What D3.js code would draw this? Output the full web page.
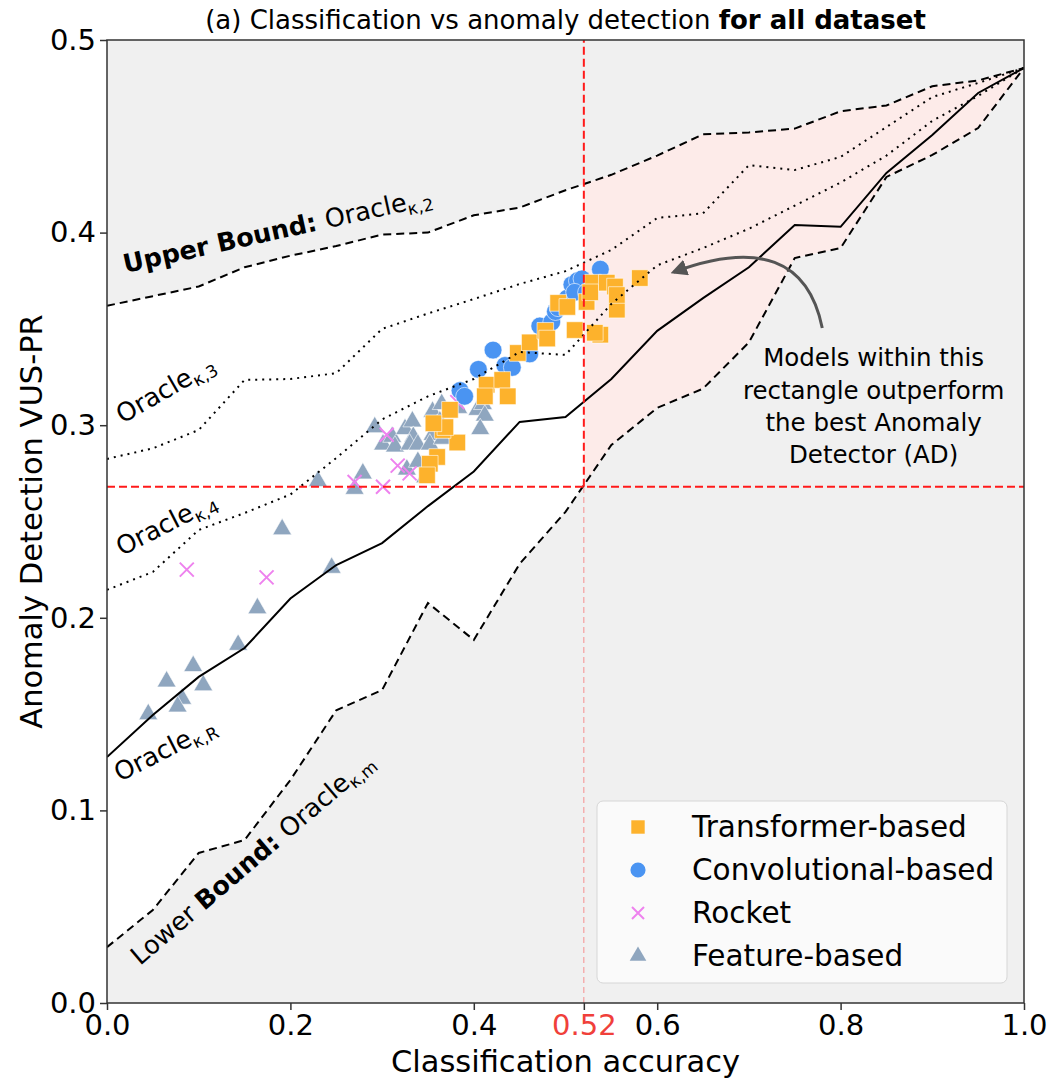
<!DOCTYPE html>
<html>
<head>
<meta charset="utf-8">
<style>
  body { margin: 0; background: #fff; }
  text { font-family: "DejaVu Sans", sans-serif; }
</style>
</head>
<body>
<div id="vis-oracle"></div>
<script src="https://d3js.org/d3.v7.min.js"></script>
<script>

// ---- Data ---- //

// accuracy grid of the oracle curves
const accGrid = [0, 0.05, 0.1, 0.15, 0.2, 0.25, 0.3, 0.35, 0.4, 0.45, 0.5,
                 0.55, 0.6, 0.65, 0.7, 0.75, 0.8, 0.85, 0.9, 0.95, 1.0];

const upperBound = [0.362, 0.367, 0.372, 0.382, 0.388, 0.393, 0.399, 0.400, 0.409, 0.413, 0.422,
                    0.430, 0.440, 0.451, 0.452, 0.454, 0.463, 0.466, 0.476, 0.479, 0.4855];
const oracle3 = [0.2825, 0.288, 0.2975, 0.3235, 0.324, 0.327, 0.350, 0.358, 0.3655, 0.3733, 0.380,
                 0.391, 0.4076, 0.410, 0.435, 0.4325, 0.4393, 0.4548, 0.4704, 0.4777, 0.4855];
const oracle4 = [0.2145, 0.2238, 0.2456, 0.2544, 0.264, 0.283, 0.303, 0.315, 0.324, 0.338, 0.3365,
                 0.363, 0.383, 0.392, 0.402, 0.414, 0.426, 0.440, 0.458, 0.471, 0.4855];
const oracleR = [0.1277, 0.1495, 0.1693, 0.1843, 0.210, 0.2274, 0.2388, 0.258, 0.276, 0.3017, 0.3043,
                 0.324, 0.349, 0.366, 0.382, 0.404, 0.403, 0.431, 0.4507, 0.4725, 0.4855];
const lowerBound = [0.029, 0.0483, 0.0779, 0.0846, 0.1158, 0.152, 0.1625, 0.2077, 0.1885, 0.228, 0.255,
                    0.2897, 0.309, 0.319, 0.343, 0.3868, 0.392, 0.4289, 0.4403, 0.4543, 0.4855];

// best classifier accuracy / best anomaly detector VUS-PR
const bestAcc = 0.52;
const bestAD = 0.268;

const transformerPts = [
  [0.414, 0.321], [0.431, 0.3235], [0.412, 0.315], [0.437, 0.315], [0.448, 0.3375],
  [0.461, 0.343], [0.478, 0.349], [0.480, 0.345], [0.492, 0.3635], [0.502, 0.3614],
  [0.510, 0.3494], [0.523, 0.364], [0.530, 0.374], [0.527, 0.369], [0.545, 0.374],
  [0.554, 0.372], [0.538, 0.347], [0.532, 0.348], [0.556, 0.360], [0.556, 0.3676],
  [0.581, 0.3764], [0.382, 0.291], [0.366, 0.2975], [0.360, 0.2835], [0.352, 0.280],
  [0.349, 0.274], [0.374, 0.308], [0.369, 0.299], [0.356, 0.301]
];
const convolutionalPts = [
  [0.385, 0.318], [0.390, 0.315], [0.405, 0.329], [0.421, 0.339], [0.434, 0.331],
  [0.442, 0.330], [0.461, 0.337], [0.472, 0.3515], [0.485, 0.3536], [0.489, 0.359],
  [0.492, 0.361], [0.502, 0.366], [0.507, 0.373], [0.513, 0.375], [0.518, 0.376],
  [0.510, 0.369], [0.538, 0.381], [0.523, 0.369]
];
const rocketPts = [
  [0.087, 0.225], [0.174, 0.221], [0.270, 0.2705], [0.301, 0.268], [0.317, 0.279],
  [0.330, 0.275], [0.305, 0.295], [0.382, 0.312]
];
const featurePts = [
  [0.045, 0.151], [0.065, 0.168], [0.094, 0.176], [0.082, 0.159], [0.077, 0.155],
  [0.105, 0.166], [0.143, 0.187], [0.164, 0.206], [0.191, 0.247], [0.245, 0.227],
  [0.230, 0.272], [0.270, 0.268], [0.279, 0.276], [0.292, 0.300], [0.301, 0.291],
  [0.311, 0.295], [0.314, 0.290], [0.325, 0.299], [0.333, 0.303], [0.334, 0.295],
  [0.330, 0.291], [0.339, 0.291], [0.327, 0.278], [0.339, 0.282], [0.347, 0.274],
  [0.355, 0.308], [0.365, 0.312], [0.363, 0.303], [0.355, 0.296], [0.352, 0.291],
  [0.366, 0.294], [0.383, 0.310], [0.404, 0.309], [0.410, 0.312], [0.412, 0.306],
  [0.407, 0.299], [0.360, 0.301]
];

const legendLabels = ["Transformer-based", "Convolutional-based", "Rocket", "Feature-based"];
const xTicks = [0, 0.2, 0.4, 0.52, 0.6, 0.8, 1.0];
const yTicks = [0, 0.1, 0.2, 0.3, 0.4, 0.5];

// ---- Setup ---- //

const W = 1057, H = 1081;
const margin = {top: 40, right: 33, bottom: 78, left: 107};

const svg = d3.select("#vis-oracle").append("svg")
  .attr("width", W).attr("height", H);

const x = d3.scaleLinear().domain([0, 1]).range([margin.left, W - margin.right]);
const y = d3.scaleLinear().domain([0, 0.5]).range([H - margin.bottom, margin.top]);

const C = {
  gray: "#f0f0f0", pink: "#fdebe9", red: "#ff1a1a",
  orange: "#fdb22c", blue: "#4a94f2", violet: "#ee82ee", slate: "#8fa6bf"
};

svg.append("clipPath").attr("id", "plot-clip")
  .append("rect").attr("x", x(0)).attr("y", y(0.5))
  .attr("width", x(1) - x(0)).attr("height", y(0) - y(0.5));
svg.append("clipPath").attr("id", "right-clip")
  .append("rect").attr("x", x(bestAcc)).attr("y", y(0.5))
  .attr("width", x(1) - x(bestAcc)).attr("height", y(0) - y(0.5));

const plot = svg.append("g").attr("clip-path", "url(#plot-clip)");

// background
plot.append("rect")
  .attr("x", x(0)).attr("y", y(0.5))
  .attr("width", x(1) - x(0)).attr("height", y(0) - y(0.5))
  .attr("fill", C.gray);

const band = d3.area()
  .x((d, i) => x(accGrid[i]))
  .y0((d, i) => y(lowerBound[i]))
  .y1((d, i) => y(upperBound[i]));

plot.append("path").attr("d", band(accGrid)).attr("fill", "#fff");
plot.append("path").attr("d", band(accGrid)).attr("fill", C.pink)
  .attr("clip-path", "url(#right-clip)");

// scatter
function sym(type, size) { return d3.symbol().type(type).size(size)(); }

plot.selectAll(".feat").data(featurePts).join("path")
  .attr("transform", d => `translate(${x(d[0])},${y(d[1]) + 2})`)
  .attr("d", sym(d3.symbolTriangle, 155))
  .attr("fill", C.slate).attr("stroke", "#fff").attr("stroke-width", 0.6);

plot.selectAll(".rock").data(rocketPts).join("path")
  .attr("transform", d => `translate(${x(d[0])},${y(d[1])})`)
  .attr("d", "M-7,-7L7,7M-7,7L7,-7")
  .attr("stroke", C.violet).attr("stroke-width", 2).attr("fill", "none");

plot.selectAll(".conv").data(convolutionalPts).join("path")
  .attr("transform", d => `translate(${x(d[0])},${y(d[1])})`)
  .attr("d", sym(d3.symbolCircle, 250))
  .attr("fill", C.blue).attr("stroke", "#fff").attr("stroke-width", 0.6);

plot.selectAll(".trans").data(transformerPts).join("path")
  .attr("transform", d => `translate(${x(d[0])},${y(d[1])})`)
  .attr("d", sym(d3.symbolSquare, 275))
  .attr("fill", C.orange).attr("stroke", "#fff").attr("stroke-width", 0.6);

// oracle curves
const curve = vals => d3.line().x((d, i) => x(accGrid[i])).y((d, i) => y(vals[i]))(vals);

plot.append("path").attr("d", curve(upperBound)).attr("fill", "none")
  .attr("stroke", "#000").attr("stroke-width", 2).attr("stroke-dasharray", "8,5");
plot.append("path").attr("d", curve(lowerBound)).attr("fill", "none")
  .attr("stroke", "#000").attr("stroke-width", 2).attr("stroke-dasharray", "8,5");
plot.append("path").attr("d", curve(oracle3)).attr("fill", "none")
  .attr("stroke", "#000").attr("stroke-width", 2).attr("stroke-dasharray", "2,5");
plot.append("path").attr("d", curve(oracle4)).attr("fill", "none")
  .attr("stroke", "#000").attr("stroke-width", 2).attr("stroke-dasharray", "2,5");
plot.append("path").attr("d", curve(oracleR)).attr("fill", "none")
  .attr("stroke", "#000").attr("stroke-width", 2);

// best-model reference lines
plot.append("line")
  .attr("x1", x(bestAcc)).attr("x2", x(bestAcc)).attr("y1", y(0)).attr("y2", y(bestAD))
  .attr("stroke", C.red).attr("stroke-opacity", 0.45).attr("stroke-width", 1)
  .attr("stroke-dasharray", "6,4");
plot.append("line")
  .attr("x1", x(bestAcc)).attr("x2", x(bestAcc)).attr("y1", y(bestAD)).attr("y2", y(0.5))
  .attr("stroke", C.red).attr("stroke-width", 2).attr("stroke-dasharray", "8,4");
plot.append("line")
  .attr("x1", x(0)).attr("x2", x(1)).attr("y1", y(bestAD)).attr("y2", y(bestAD))
  .attr("stroke", C.red).attr("stroke-width", 2).attr("stroke-dasharray", "8,4");

// arrow
svg.append("defs").append("marker")
  .attr("id", "arrowhead").attr("viewBox", "0 0 10 10")
  .attr("refX", 8).attr("refY", 5).attr("markerWidth", 5.5).attr("markerHeight", 5.5)
  .attr("orient", "auto")
  .append("path").attr("d", "M0,0L10,5L0,10z").attr("fill", "#555");

const arrowFrom = [0.78, 0.3505], arrowCtrl = [0.757, 0.404], arrowTo = [0.618, 0.3795];
const ap = d3.path();
ap.moveTo(x(arrowFrom[0]), y(arrowFrom[1]));
ap.quadraticCurveTo(x(arrowCtrl[0]), y(arrowCtrl[1]), x(arrowTo[0]), y(arrowTo[1]));
svg.append("path").attr("d", ap.toString()).attr("fill", "none")
  .attr("stroke", "#555").attr("stroke-width", 3).attr("marker-end", "url(#arrowhead)");

const noteLines = ["Models within this", "rectangle outperform", "the best Anomaly", "Detector (AD)"];
svg.append("text")
  .attr("x", x(0.836)).attr("y", y(0.3305))
  .attr("text-anchor", "middle")
  .style("font-size", "24.5px")
  .selectAll("tspan").data(noteLines).join("tspan")
  .attr("x", x(0.836)).attr("dy", (d, i) => i === 0 ? 0 : 32.2)
  .text(d => d);

// curve labels
const curveLabels = [
  {pos: [0.020, 0.379], rot: -12.5, bold: "Upper Bound: ", pre: "", sub: "κ,2"},
  {pos: [0.017, 0.3006], rot: -30, bold: "", pre: "", sub: "κ,3"},
  {pos: [0.016, 0.232], rot: -27, bold: "", pre: "", sub: "κ,4"},
  {pos: [0.014, 0.1147], rot: -27, bold: "", pre: "", sub: "κ,R"},
  {pos: [0.036, 0.0192], rot: -40.5, bold: "Bound: ", pre: "Lower ", sub: "κ,m"}
];
curveLabels.forEach(lb => {
  const t = svg.append("text")
    .attr("transform", `translate(${x(lb.pos[0])},${y(lb.pos[1])}) rotate(${lb.rot})`)
    .style("font-size", "25.5px");
  if (lb.pre) t.append("tspan").text(lb.pre);
  if (lb.bold) t.append("tspan").attr("font-weight", "bold").text(lb.bold);
  t.append("tspan").text("Oracle");
  t.append("tspan").attr("dy", 5).style("font-size", "17px").text(lb.sub);
});

// frame + axes
svg.append("rect")
  .attr("x", x(0)).attr("y", y(0.5))
  .attr("width", x(1) - x(0)).attr("height", y(0) - y(0.5))
  .attr("fill", "none").attr("stroke", "#333").attr("stroke-width", 1.5);

const xAxis = svg.append("g").attr("transform", `translate(0,${y(0)})`)
  .call(d3.axisBottom(x).tickValues(xTicks).tickSize(7).tickPadding(4)
    .tickFormat(d => d === bestAcc ? "0.52" : d3.format(".1f")(d)));
const yAxis = svg.append("g").attr("transform", `translate(${x(0)},0)`)
  .call(d3.axisLeft(y).tickValues(yTicks).tickSize(7).tickPadding(4).tickFormat(d3.format(".1f")));

[xAxis, yAxis].forEach(a => {
  a.select(".domain").remove();
  a.selectAll(".tick line").attr("stroke", "#333").attr("stroke-width", 1.5);
  a.selectAll(".tick text").style("font-family", "DejaVu Sans").style("font-size", "29px")
    .attr("fill", "#000");
});
xAxis.selectAll(".tick text").filter(d => d === bestAcc).attr("fill", "#f0403a");

svg.append("text")
  .attr("x", (x(0) + x(1)) / 2).attr("y", 1072)
  .attr("text-anchor", "middle").style("font-size", "30.5px")
  .text("Classification accuracy");
svg.append("text")
  .attr("transform", `translate(42,${(y(0) + y(0.5)) / 2}) rotate(-90)`)
  .attr("text-anchor", "middle").style("font-size", "30.5px")
  .text("Anomaly Detection VUS-PR");

const title = svg.append("text")
  .attr("x", (x(0) + x(1)) / 2).attr("y", 29)
  .attr("text-anchor", "middle")
  .style("font-size", "26px");
title.append("tspan").text("(a) Classification vs anomaly detection ");
title.append("tspan").attr("font-weight", "bold").text("for all dataset");

// legend
const legendTypes = ["square", "circle", "x", "triangle"];
const legendColors = [C.orange, C.blue, C.violet, C.slate];
const lg = svg.append("g");
lg.append("rect")
  .attr("x", 597).attr("y", 801).attr("width", 410).attr("height", 182).attr("rx", 6)
  .attr("fill", "#fcfcfc").attr("fill-opacity", 0.85).attr("stroke", "#d6d6d6");
legendLabels.forEach((name, i) => {
  const cy = 827 + i * 43;
  const g = lg.append("g").attr("transform", `translate(638,${cy})`);
  const kind = legendTypes[i];
  if (kind === "x") {
    g.append("path").attr("d", "M-6,-6L6,6M-6,6L6,-6")
      .attr("stroke", legendColors[i]).attr("stroke-width", 2);
  } else {
    const t = {square: d3.symbolSquare, circle: d3.symbolCircle, triangle: d3.symbolTriangle}[kind];
    g.append("path").attr("d", sym(t, kind === "triangle" ? 120 : 180))
      .attr("fill", legendColors[i]);
  }
  lg.append("text").attr("x", 692).attr("y", cy + 10)
    .style("font-size", "29.5px").text(name);
});

</script>
</body>
</html>
